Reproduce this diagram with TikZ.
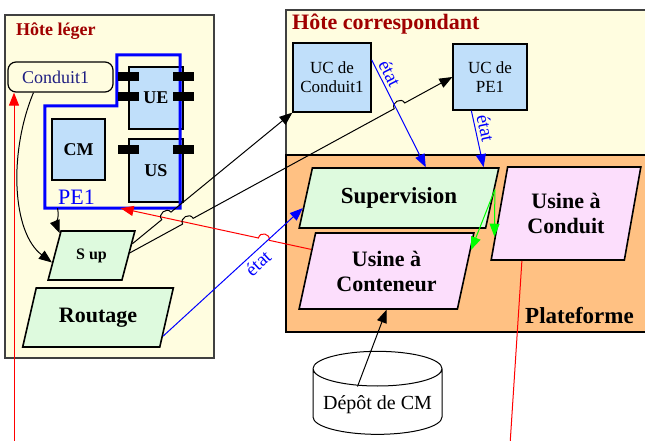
\documentclass[tikz,border=0pt]{standalone}
\usepackage{fontspec}
\setmainfont{Liberation Serif}
\usetikzlibrary{shapes.geometric,arrows.meta,calc}

\definecolor{hostbg}{RGB}{255,253,224}
\definecolor{platorange}{RGB}{255,193,131}
\definecolor{ucblue}{RGB}{192,223,250}
\definecolor{supgreen}{RGB}{222,250,222}
\definecolor{usinepink}{RGB}{252,222,252}
\definecolor{titlered}{RGB}{160,0,0}
\definecolor{navy}{RGB}{30,30,130}

\begin{document}
\begin{tikzpicture}[x=1pt, y=-1pt,
    host/.style={rectangle, draw=black!75, line width=1.2pt, fill=hostbg, inner sep=0pt},
    title/.style={anchor=base west, inner sep=0pt, text=titlered, font=\bfseries\fontsize{18}{20}\selectfont},
    block/.style={rectangle, draw, line width=1.3pt, fill=ucblue, inner sep=0pt, align=center, font=\fontsize{17}{19}\selectfont},
    comp/.style={block, font=\bfseries\fontsize{18}{20}\selectfont},
    para/.style={trapezium, trapezium stretches=true, draw, line width=1.6pt, inner sep=0pt, align=center, font=\bfseries\fontsize{22}{25}\selectfont},
    arrow/.style={-{Triangle[length=13pt,width=10pt]}, line width=1pt},
    link/.style={line width=1pt},
    etat/.style={text=blue, inner sep=3pt, font=\fontsize{19}{21}\selectfont},
    hop/.style={to path={.. controls ($(\tikztostart)!7pt!90:(\tikztotarget)$) and ($(\tikztotarget)!7pt!-90:(\tikztostart)$) .. (\tikztotarget)}},
    hopr/.style={to path={.. controls ($(\tikztostart)!7pt!-90:(\tikztotarget)$) and ($(\tikztotarget)!7pt!90:(\tikztostart)$) .. (\tikztotarget)}}]

    \useasboundingbox (0,0) rectangle (645,441);

    % Hosts
    \node[host, minimum width=364pt, minimum height=322pt] (corresp) at (468,171) {};
    \node[title, font=\bfseries\fontsize{22}{24}\selectfont] (correspT) at (292,30) {Hôte correspondant};
    \node[host, draw=black, fill=platorange, minimum width=364pt, minimum height=177pt] (plat) at (468,243.5) {};
    \node[anchor=base west, inner sep=0pt, font=\bfseries\fontsize{23}{25}\selectfont] (platT) at (525,323) {Plateforme};
    \node[host, minimum width=209pt, minimum height=343pt] (leger) at (109.5,186.5) {};
    \node[title] (legerT) at (16,36) {Hôte léger};

    % Light host
    \node[rectangle, rounded corners=8pt, draw, line width=1.2pt, fill=hostbg, minimum height=30pt, inner xsep=14pt,
        text width=77pt, align=left, text=navy, font=\fontsize{18}{20}\selectfont] (conduit1) at (60.5,77) {Conduit1};
    \node[comp, minimum width=54pt, minimum height=62pt] (ue) at (156,98) {UE};
    \node[comp, minimum width=54pt, minimum height=63pt] (us) at (156,170.5) {US};
    \node[comp, minimum width=53pt, minimum height=61pt] (cm) at (78.5,149.5) {CM};

    % PE1
    \node[minimum width=135pt, minimum height=102pt, inner sep=0pt] (pe1) at (112.5,157) {};
    \draw[blue, line width=3pt] (pe1.north west) -- ++(72,0) |- (180,55) -- (pe1.south east) -- (pe1.south west) -- cycle;
    \node[anchor=base west, inner sep=0pt, text=blue, font=\fontsize{22}{24}\selectfont] (pe1T) at (58,204) {PE1};
    \foreach \n/\d in {ue/10, ue/30.5, us/11.5} {
        \fill ([yshift=-\d pt]\n.north west) +(-10.5pt,-4.5pt) rectangle +(10.5pt,4.5pt);
        \fill ([yshift=-\d pt]\n.north east) +(-10.5pt,-4.5pt) rectangle +(10.5pt,4.5pt);
    }

    \node[para, fill=supgreen, trapezium left angle=65, trapezium right angle=115, minimum width=87pt, minimum height=49pt,
        font=\bfseries\fontsize{16}{18}\selectfont] (sup) at (91.5,255.5) {S up};
    \node[para, fill=supgreen, trapezium left angle=66, trapezium right angle=114, minimum width=152pt, minimum height=59pt] (routage) at (98,317.5) {Routage};

    % Correspondent host
    \node[block, minimum width=78pt, minimum height=69pt] (ucc) at (332,77.5) {UC de\\Conduit1};
    \node[block, minimum width=74pt, minimum height=66pt] (ucp) at (490,77) {UC de\\PE1};
    \node[para, fill=supgreen, trapezium left angle=67, trapezium right angle=113, minimum width=200pt, minimum height=60pt,
        font=\bfseries\fontsize{23}{25}\selectfont] (supervision) at (399,198) {Supervision};
    \node[para, fill=usinepink, trapezium left angle=74, trapezium right angle=106, minimum width=175pt, minimum height=76pt] (conteneur) at (386.5,271) {Usine à\\Conteneur};
    \node[para, fill=usinepink, trapezium left angle=75, trapezium right angle=105, minimum width=150pt, minimum height=93pt] (usineCd) at (566,213.5) {Usine à\\Conduit};
    \node[cylinder, shape border rotate=90, aspect=0.3, draw, line width=1pt, fill=white, minimum width=129pt, minimum height=83pt,
        font=\fontsize{20}{22}\selectfont] (depot) at (377.5,404.5) {Dépôt de CM};

    % Hop points
    \path ($(sup.16)!38pt!(ucc.south west)$) coordinate (h1a) ($(sup.16)!50pt!(ucc.south west)$) coordinate (h1b);
    \path ($(sup.4)!60pt!(ucp.west)$) coordinate (h2a) ($(sup.4)!72pt!(ucp.west)$) coordinate (h2b)
          ($(sup.4)!301pt!(ucp.west)$) coordinate (h2c) ($(sup.4)!313pt!(ucp.west)$) coordinate (h2d);
    \path ($(conteneur.164)!43pt!(pe1.-81)$) coordinate (h3a) ($(conteneur.164)!54pt!(pe1.-81)$) coordinate (h3b);
    \coordinate (exitL) at (14,445);
    \coordinate (exitR) at (510,445);

    % Arrows
    \draw[arrow, red] (exitL) -- (exitL |- conduit1.south);
    \draw[link, red] (usineCd.227) -- (exitR);
    \draw[arrow, red] (conteneur.164) -- (h3a) to[hopr] (h3b) -- (pe1.-81);
    \draw[arrow] (conduit1.210) .. controls +(-25,60) and +(-40,-30) .. (sup.190);
    \draw[arrow] (pe1.223) .. controls +(2,12) and +(-4,-10) .. (sup.145);
    \draw[arrow] (sup.16) -- (h1a) to[hop] (h1b) -- (ucc.south west);
    \draw[arrow] (sup.4) -- (h2a) to[hop] (h2b) -- (h2c) to[hop] (h2d) -- (ucp.west);
    \draw[arrow, blue] (routage.344) -- (supervision.186) node[etat, pos=0.63, sloped, below] (etat1) {état};
    \draw[arrow, blue] (ucc.24) -- (supervision.49) node[etat, pos=0.17, sloped, above] (etat2) {état};
    \draw[arrow, blue] (ucp.-119) -- (supervision.20) node[etat, pos=0.35, sloped, above] (etat3) {état};
    \draw[arrow, green] (supervision.5) -- (conteneur.14);
    \draw[arrow, green] (supervision.5) -- (usineCd.198);
    \draw[arrow] ([xshift=-20pt,yshift=18pt]depot.center) -- (conteneur.south);

\end{tikzpicture}
\end{document}
